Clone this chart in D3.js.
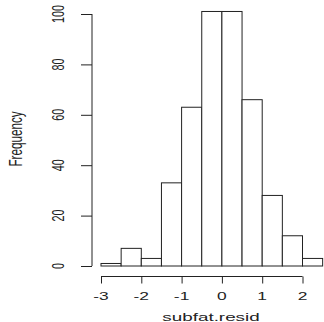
<!DOCTYPE html>
<html>
<head>
<meta charset="utf-8">
<script src="https://cdn.jsdelivr.net/npm/d3@7"></script>
<style>
  body { margin: 0; background: #fff; }
  svg { display: block; }
  text { font-family: "Liberation Sans", Arial, sans-serif; fill: #222; }
</style>
</head>
<body>
<div id="chart"></div>
<script>
// histogram of subfat.resid, bin width 0.5
const binStarts = [-3, -2.5, -2, -1.5, -1, -0.5, 0, 0.5, 1, 1.5, 2];
const counts = [1, 7, 3, 33, 63, 101, 101, 66, 28, 12, 3];
const binWidth = 0.5;
const xTicks = [-3, -2, -1, 0, 1, 2];
const yTicks = [0, 20, 40, 60, 80, 100];

const width = 324;
const height = 322;

// the picture is stretched sideways, so text gets squashed the same way
const sx = 1.45, sy = 0.9;
const fontSize = 12;
const titleSize = 13;

const svg = d3.select("#chart").append("svg")
  .attr("width", width)
  .attr("height", height);

const x = d3.scaleLinear().domain([-3, 2]).range([101, 302.5]);
const y = d3.scaleLinear().domain([0, 100]).range([266, 14]);

// bars
svg.append("g")
  .selectAll("rect")
  .data(binStarts.map((s, i) => ({ s, n: counts[i] })))
  .join("rect")
  .attr("x", d => x(d.s))
  .attr("y", d => y(d.n))
  .attr("width", d => x(d.s + binWidth) - x(d.s))
  .attr("height", d => y(0) - y(d.n))
  .attr("fill", "#fff")
  .attr("stroke", "#222")
  .attr("stroke-width", 1);

// x axis (R style, detached below the bars)
const axisY = 276.5;
const gx = svg.append("g").attr("transform", `translate(0,${axisY})`);
gx.call(d3.axisBottom(x).tickValues(xTicks).tickSize(7).tickSizeOuter(0).tickFormat(d3.format("d")));
gx.select(".domain").attr("d", `M${x(-3)},0H${x(2)}`).attr("stroke", "#222");
gx.selectAll(".tick line").attr("stroke", "#222");
gx.selectAll(".tick text").remove();

svg.append("g").selectAll("text")
  .data(xTicks)
  .join("text")
  .attr("transform", d => `translate(${x(d)},${axisY + 19.5}) scale(${sx},${sy})`)
  .attr("text-anchor", "middle")
  .attr("dy", "0.36em")
  .style("font-size", fontSize + "px")
  .text(d => d3.format("d")(d).replace("−", "-"));

// y axis
const axisX = 92;
const gy = svg.append("g").attr("transform", `translate(${axisX},0)`);
gy.call(d3.axisLeft(y).tickValues(yTicks).tickSize(11).tickSizeOuter(0));
gy.select(".domain").attr("d", `M0,${y(0)}V${y(100)}`).attr("stroke", "#222");
gy.selectAll(".tick line").attr("stroke", "#222");
gy.selectAll(".tick text").remove();

svg.append("g").selectAll("text")
  .data(yTicks)
  .join("text")
  .attr("transform", d => `translate(${axisX - 34},${y(d)}) scale(${sx},${sy}) rotate(-90)`)
  .attr("text-anchor", "middle")
  .attr("dy", "0.36em")
  .style("font-size", fontSize + "px")
  .text(d => d);

// axis titles
svg.append("text")
  .attr("transform", `translate(211,316.5) scale(${sx},${sy})`)
  .attr("text-anchor", "middle")
  .attr("dy", "0.36em")
  .style("font-size", titleSize + "px")
  .text("subfat.resid");

svg.append("text")
  .attr("transform", `translate(15,139) scale(${sx},${sy}) rotate(-90)`)
  .attr("text-anchor", "middle")
  .attr("dy", "0.36em")
  .style("font-size", titleSize + "px")
  .text("Frequency");
</script>
</body>
</html>
